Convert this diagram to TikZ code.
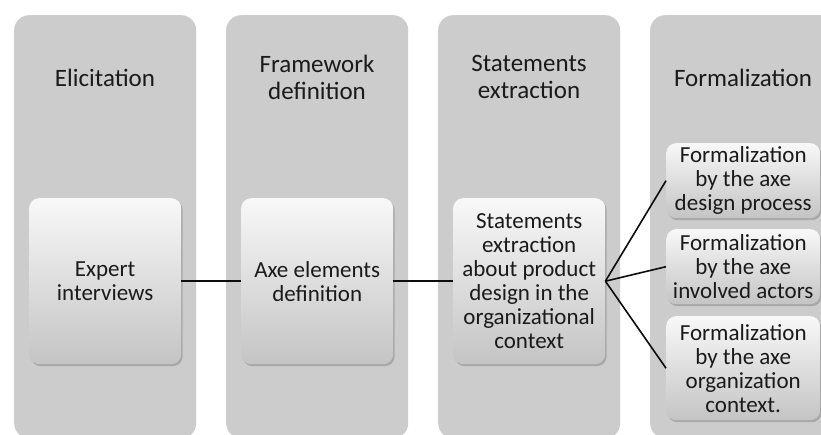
\documentclass[tikz,border=0pt]{standalone}
\usepackage{fontspec}
\setmainfont{Carlito}
\usetikzlibrary{shadows}
\definecolor{panelgray}{HTML}{CCCCCC}
\definecolor{boxtop}{HTML}{F8F8F8}
\definecolor{boxbot}{HTML}{C4C4C4}
\definecolor{txt}{HTML}{1A1A1A}
\tikzset{
  panel/.style={fill=panelgray, draw=none, rounded corners=15pt, anchor=north west, inner sep=0pt},
  title/.style={font=\fontsize{25}{27}\selectfont, text=txt, align=center},
  stepbox/.style={rounded corners=10pt, top color=boxtop, bottom color=boxbot, draw=none,
    drop shadow={shadow xshift=1.5pt, shadow yshift=-2pt, opacity=0.35, fill=black!60},
    font=\fontsize{23}{24}\selectfont, text=txt, align=center, inner sep=0pt, anchor=north west},
  link/.style={draw=black!95, line width=1.6pt}
}
\begin{document}
\begin{tikzpicture}[x=1pt,y=-1pt]
\useasboundingbox (0,0) rectangle (821,435);
\fill[white] (0,0) rectangle (821,435);
\begin{scope}
\clip (0,0) rectangle (821,435);
\node[panel, minimum width=182pt, minimum height=423pt] (p1) at (14,15) {};
\node[panel, minimum width=182pt, minimum height=423pt] (p2) at (226,15) {};
\node[panel, minimum width=182pt, minimum height=423pt] (p3) at (438,15) {};
\node[panel, minimum width=200pt, minimum height=423pt] (p4) at (650,15) {};
\end{scope}
\node[title] (t1) at (105,78) {Elicitation};
\node[title] (t2) at (317,77) {Framework\\definition};
\node[title] (t3) at (529,77) {Statements\\extraction};
\node[title] (t4) at (743,78) {Formalization};

\node[stepbox, minimum width=152pt, minimum height=166pt] (e) at (29,198) {Expert\\interviews};
\node[stepbox, minimum width=152pt, minimum height=166pt] (a) at (241,198) {Axe elements\\definition};
\node[stepbox, minimum width=152pt, minimum height=166pt] (s) at (453,198) {Statements\\extraction\\about product\\design in the\\organizational\\context};
\node[stepbox, minimum width=154pt, minimum height=75pt] (f1) at (666,143) {Formalization\\by the axe\\design process};
\node[stepbox, minimum width=154pt, minimum height=75pt] (f2) at (666,229) {Formalization\\by the axe\\involved actors};
\node[stepbox, minimum width=154pt, minimum height=104pt] (f3) at (666,316) {Formalization\\by the axe\\organization\\context.};

\draw[link] (e.east) -- (a.west);
\draw[link] (a.east) -- (s.west);
\draw[link] (s.east) -- (f1.west);
\draw[link] (s.east) -- (f2.west);
\draw[link] (s.east) -- (f3.west);
\end{tikzpicture}
\end{document}
